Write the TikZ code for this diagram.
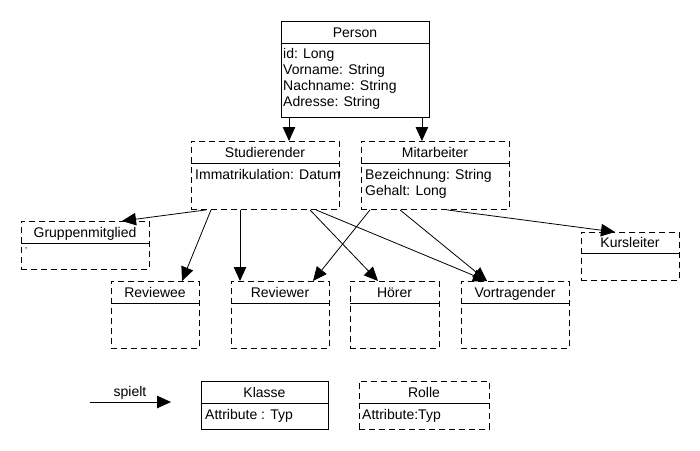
\documentclass[tikz,border=0pt]{standalone}
\usepackage{fontspec}
\setmainfont{Liberation Sans}
\usetikzlibrary{arrows.meta}
\tikzset{
  box/.style={draw, line width=0.9pt, inner sep=0pt, anchor=north west},
  dbox/.style={box, dash pattern=on 6pt off 4pt},
  hdr/.style={line width=0.9pt},
  ttl/.style={anchor=base, inner sep=0pt, font=\fontsize{14}{16}\selectfont},
  att/.style={anchor=base west, inner sep=0pt, font=\fontsize{14}{16}\selectfont},
  arr/.style={line width=0.8pt, -{Triangle[length=14pt,width=12.5pt]}},
}
% #1 name, #2 style, #3 x1, #4 y1, #5 x2, #6 y header, #7 y2, #8 title
\newcommand\umlclass[8]{%
  \node[#2, minimum width={(#5-#3)*1pt}, minimum height={(#7-#4)*1pt}] (#1) at (#3,#4) {};
  \draw[hdr] (#3,#6) -- (#5,#6);
  \node[ttl] (#1-title) at ({(#3+#5)/2},{#6-6}) {#8};
}
\begin{document}
\begin{tikzpicture}[x=1pt,y=-1pt]
\useasboundingbox (0,0) rectangle (700,450);

% classes
\umlclass{person}{box}{281}{21}{429}{43}{117}{Person}
\node[att] (person-a1) at (283,58) {id: Long};
\node[att] (person-a2) at (283,74) {Vorname: String};
\node[att] (person-a3) at (283,90) {Nachname: String};
\node[att] (person-a4) at (283,106) {Adresse: String};

\umlclass{stud}{dbox}{191}{141}{339}{163}{209}{Studierender}
\node[att] (stud-a1) at (195,179) {Immatrikulation: Datum};

\umlclass{mitarb}{dbox}{361}{141}{509}{163}{209}{Mitarbeiter}
\node[att] (mitarb-a1) at (365,179) {Bezeichnung: String};
\node[att] (mitarb-a2) at (365,195) {Gehalt: Long};

\umlclass{grp}{dbox}{21}{221}{149}{243}{269}{Gruppenmitglied}
\node[inner sep=0pt, font=\fontsize{9}{9}\selectfont] (grp-a1) at (26,249) {,};

\umlclass{reviewee}{dbox}{111}{281}{199}{303}{348}{Reviewee}
\umlclass{reviewer}{dbox}{231}{281}{329}{303}{348}{Reviewer}
\umlclass{hoerer}{dbox}{350}{281}{439}{303}{348}{Hörer}
\umlclass{vortr}{dbox}{461}{281}{569}{303}{348}{Vortragender}
\umlclass{kurs}{dbox}{581}{232}{679}{253}{280}{Kursleiter}

% legend
\umlclass{klasse}{box}{201}{381}{328}{403}{429}{Klasse}
\node[att] (klasse-a1) at (205,419) {Attribute : Typ};
\umlclass{rolle}{dbox}{359}{381}{489}{403}{429}{Rolle}
\node[att] (rolle-a1) at (362,419) {Attribute:Typ};

\coordinate (lgA) at (90,402);
\coordinate (lgB) at (171,402);
\draw[arr] (lgA) -- (lgB);
\node[ttl] (spielt) at (130,396) {spielt};

% connectors
\draw[arr] ([xshift=8pt]person.south west) -- ([xshift=8pt]person.south west |- stud.north);
\draw[arr] ([xshift=-8pt]person.south east) -- ([xshift=-8pt]person.south east |- mitarb.north);

\draw[arr] ([xshift=15pt]stud.south west) -- ([xshift=101pt]grp.north west);
\draw[arr] ([xshift=20pt]stud.south west) -- ([xshift=71pt]reviewee.north west);
\draw[arr] ([xshift=49pt]stud.south west) -- ([xshift=9pt]reviewer.north west);
\draw[arr] ([xshift=119pt]stud.south west) -- ([xshift=28pt]hoerer.north west);
\draw[arr] ([xshift=125pt]stud.south west) -- ([xshift=26pt]vortr.north west);

\draw[arr] ([xshift=9pt]mitarb.south west) -- ([xshift=82pt]reviewer.north west);
\draw[arr] ([xshift=39pt]mitarb.south west) -- ([xshift=26pt]vortr.north west);
\draw[arr] ([xshift=86pt]mitarb.south west) -- ([xshift=34pt]kurs.north west);
\end{tikzpicture}
\end{document}
